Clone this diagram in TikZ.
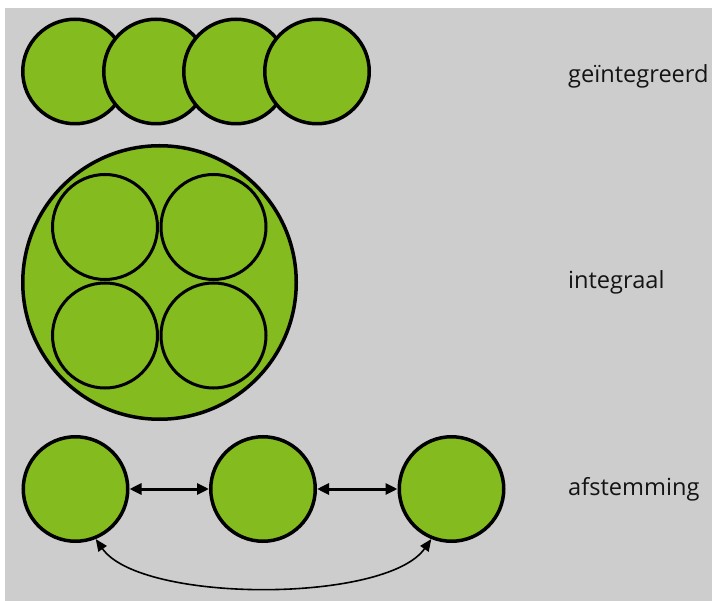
\documentclass[tikz,border=0pt]{standalone}
\usepackage{fontspec}
\setmainfont{Open Sans}
\usetikzlibrary{arrows.meta}
\definecolor{bggray}{RGB}{205,205,205}
\definecolor{leaf}{RGB}{132,187,30}
\definecolor{ink}{RGB}{20,20,20}
\begin{document}
\begin{tikzpicture}[x=1pt,y=-1pt,
  ball/.style={circle,draw=black,fill=leaf,line width=3.5pt,minimum size=104.5pt,inner sep=0pt},
  innerball/.style={circle,draw=black,fill=leaf,line width=3pt,minimum size=105pt,inner sep=0pt},
  bigball/.style={circle,draw=black,fill=leaf,line width=3.5pt,minimum size=273.5pt,inner sep=0pt},
  lbl/.style={anchor=base west,inner sep=0pt,text=ink,font=\fontsize{23.6}{28}\selectfont},
  dbl/.style={line width=3pt,{Triangle[length=12pt,width=11pt]}-{Triangle[length=12pt,width=11pt]}},
  arc/.style={line width=1.6pt,{Triangle[length=12pt,width=10pt]}-{Triangle[length=12pt,width=10pt]}}]
\useasboundingbox (0,0) rectangle (712,601);
\fill[white] (0,0) rectangle (712,601);
\fill[bggray] (5,8) rectangle (712,601);
% top row
\node[ball] (t1) at (75,71.5) {};
\node[ball] (t2) at (156,71.5) {};
\node[ball] (t3) at (236,71.5) {};
\node[ball] (t4) at (317,71.5) {};
% integral
\node[bigball] (big) at (159.5,282.5) {};
\node[innerball] (i1) at (105,227) {};
\node[innerball] (i2) at (213.5,227) {};
\node[innerball] (i3) at (105,335.5) {};
\node[innerball] (i4) at (213.5,335.5) {};
% bottom row
\node[ball] (b1) at (75.5,489) {};
\node[ball] (b2) at (263,489) {};
\node[ball] (b3) at (451.5,489) {};
\draw[dbl] (b1) -- (b2);
\draw[dbl] (b2) -- (b3);
\draw[arc] (b1.-68) to[out=-55,in=-125,looseness=0.6] (b3.-112);
% labels
\node[lbl] (l1) at (568,83) {geïntegreerd};
\node[lbl] (l2) at (568,289) {integraal};
\node[lbl] (l3) at (568,495) {afstemming};
\end{tikzpicture}
\end{document}
